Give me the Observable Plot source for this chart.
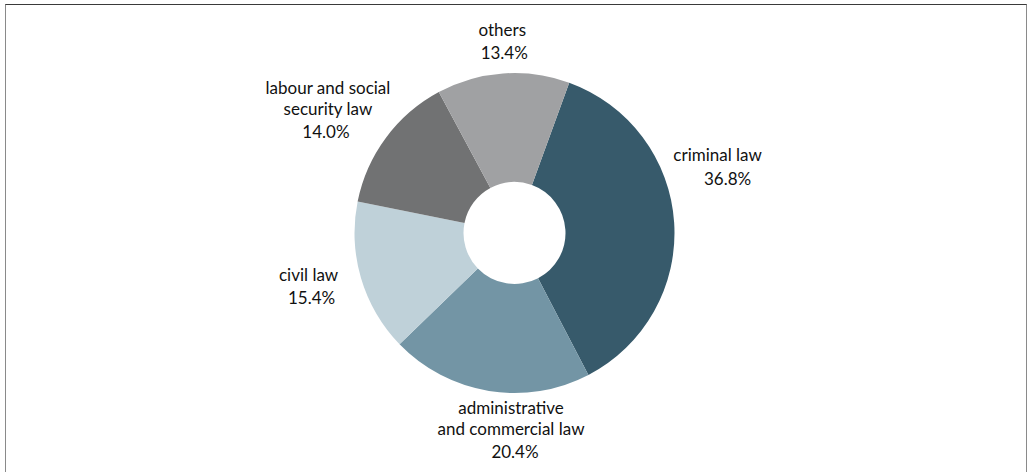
<!DOCTYPE html>
<html><head><meta charset="utf-8">
<script src="https://cdn.jsdelivr.net/npm/d3@7"></script>
<script src="https://cdn.jsdelivr.net/npm/@observablehq/plot@0.6"></script>
<style>
html,body{margin:0;padding:0;background:#fff;}
#chart{position:absolute;left:0;top:0;}
#frame{position:absolute;left:5px;top:4px;width:1022px;height:520px;box-sizing:border-box;border-top:1.5px solid #3a3a3a;border-left:1.5px solid #8a8a8a;border-right:1.5px solid #8a8a8a;pointer-events:none;}
</style></head><body>
<div id="chart"></div><div id="frame"></div>
<script>
// data
const categories = ["criminal law", "administrative\nand commercial law", "civil law", "labour and social\nsecurity law", "others"];
const shares = [36.8, 20.4, 15.4, 14.0, 13.4];
const pctLabels = ["36.8%", "20.4%", "15.4%", "14.0%", "13.4%"];

// style / layout
const colors = ["#375a6b", "#7395a5", "#bfd1d9", "#717273", "#a0a1a3"];
const W = 1029, H = 472, CX = 514.5, CY = 233, R = 160, innerRatio = 51 / 160;
const startDeg = 20;
const labelRadius = [1.371, 1.369, 1.335, 1.339, 1.127];
const labelTurn = [-10.5, -9.2, -1.4, -8.5, 0.7];
const nameShiftPx = [-10, -4, -3, 2, -2];

const rows = categories.map((c, i) => ({category: c, share: shares[i], pct: pctLabels[i], color: colors[i]}));
const arcs = d3.pie().value(d => d.share).sort(null)
  .startAngle(startDeg * Math.PI / 180).endAngle(startDeg * Math.PI / 180 + 2 * Math.PI)(rows);
const labels = arcs.map((a, i) => {
  const ang = (a.startAngle + a.endAngle) / 2 + labelTurn[i] * Math.PI / 180;
  const x = labelRadius[i] * Math.sin(ang), y = labelRadius[i] * Math.cos(ang);
  return {name: a.data.category, pct: a.data.pct, x, y, nx: x + nameShiftPx[i] / R};
});

function donut(index, scales) {
  const cx = scales.x(0), cy = scales.y(0);
  const r = scales.x(1) - cx;
  const g = d3.create("svg:g").attr("transform", `translate(${cx},${cy})`);
  const arcGen = d3.arc().innerRadius(r * innerRatio).outerRadius(r);
  g.selectAll("path").data(arcs).join("path")
    .attr("d", arcGen).attr("fill", d => d.data.color);
  return g.node();
}

const font = "Lato, 'Noto Sans', sans-serif";
const chart = Plot.plot({
  width: W, height: H,
  margin: 0,
  style: {fontFamily: font, background: "transparent"},
  x: {domain: [-CX / R, (W - CX) / R], axis: null},
  y: {domain: [-(H - CY) / R, CY / R], axis: null},
  marks: [
    donut,
    Plot.text(labels, {x: "nx", y: "y", text: "name", fontSize: 17, fill: "#111", lineAnchor: "bottom", lineHeight: 1.2, dy: -18, fontFamily: font}),
    Plot.text(labels, {x: "x", y: "y", text: "pct", fontSize: 17, fill: "#111", lineAnchor: "middle", fontFamily: font})
  ]
});
document.getElementById("chart").appendChild(chart);
</script>
</body></html>
